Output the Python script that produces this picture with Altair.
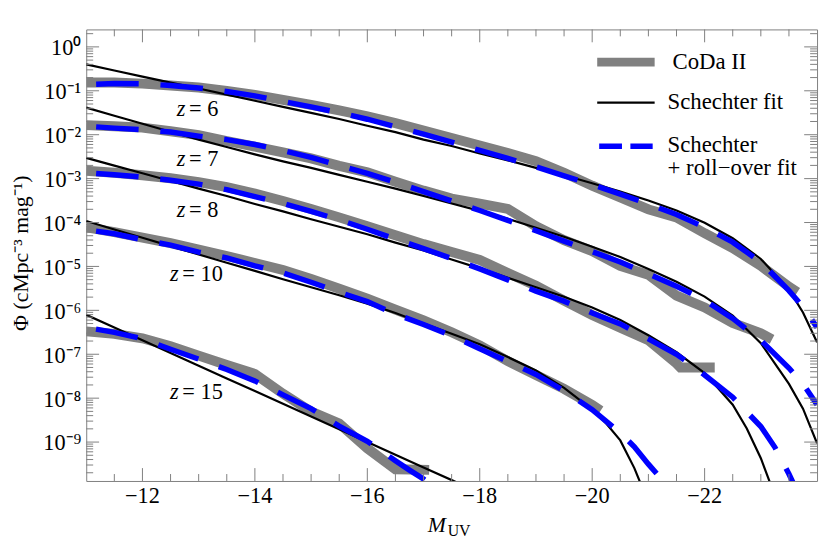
import altair as alt
import pandas as pd

SERIF = "Liberation Serif"
FRAME = "#808080"
GRAY = "#808080"
BLUE = "#0000ff"
W, H = 738, 456

# ---------------- data: (M_UV, Phi) ----------------
CODA_Z6 = [(-11.0, 0.154), (-11.5, 0.154), (-12.0, 0.146), (-12.5, 0.132), (-13.0, 0.119),
           (-13.5, 0.0989), (-14.0, 0.0804), (-14.5, 0.0619), (-15.0, 0.0478), (-15.5, 0.0359),
           (-16.0, 0.0263), (-16.5, 0.0183), (-17.0, 0.0124), (-17.5, 8.38e-3), (-18.0, 5.68e-3),
           (-18.5, 3.85e-3), (-19.0, 2.49e-3), (-19.5, 1.36e-3), (-20.0, 6.92e-4), (-20.5, 3.71e-4),
           (-21.0, 1.99e-4), (-21.5, 1.31e-4), (-22.0, 5.70e-5), (-22.5, 2.62e-5), (-23.0, 1.03e-5),
           (-23.5, 3.44e-6), (-23.65, 2.6e-6)]
CODA_Z7 = [(-11.0, 1.65e-2), (-11.5, 1.56e-2), (-12.0, 1.45e-2), (-12.5, 1.20e-2), (-13.0, 9.79e-3),
           (-13.5, 7.18e-3), (-14.0, 5.38e-3), (-14.5, 3.94e-3), (-15.0, 2.88e-3), (-15.5, 1.95e-3),
           (-16.0, 1.39e-3), (-16.5, 8.51e-4), (-17.0, 5.33e-4), (-17.5, 3.52e-4), (-18.0, 2.71e-4),
           (-18.5, 2.04e-4), (-19.0, 8.20e-5), (-19.5, 3.96e-5), (-20.0, 2.24e-5), (-20.5, 1.03e-5),
           (-21.0, 6.43e-6), (-21.5, 2.16e-6), (-22.0, 1.16e-6), (-22.5, 5.16e-7), (-23.0, 2.99e-7),
           (-23.2, 2.19e-7)]
CODA_Z8 = [(-11.0, 1.51e-3), (-11.5, 1.36e-3), (-12.0, 1.19e-3), (-12.5, 1.02e-3), (-13.0, 8.30e-4),
           (-13.5, 6.40e-4), (-14.0, 4.56e-4), (-14.5, 3.09e-4), (-15.0, 2.04e-4), (-15.5, 1.31e-4),
           (-16.0, 8.20e-5), (-16.5, 5.14e-5), (-17.0, 3.22e-5), (-17.5, 2.12e-5), (-18.0, 1.40e-5),
           (-18.5, 7.13e-6), (-19.0, 3.63e-6), (-19.5, 1.66e-6), (-20.0, 7.83e-7), (-20.5, 4.01e-7),
           (-21.0, 2.08e-7), (-21.5, 6.14e-8), (-21.57, 4.99e-8), (-22.18, 4.99e-8)]
CODA_Z10 = [(-11.0, 7.80e-5), (-11.5, 6.01e-5), (-12.0, 4.52e-5), (-12.5, 3.39e-5), (-13.0, 2.42e-5),
            (-13.5, 1.73e-5), (-14.0, 1.20e-5), (-14.5, 8.34e-6), (-15.0, 5.22e-6), (-15.5, 3.10e-6),
            (-16.0, 1.85e-6), (-16.5, 1.04e-6), (-17.0, 5.89e-7), (-17.5, 3.16e-7), (-18.0, 1.60e-7),
            (-18.5, 6.98e-8), (-19.0, 3.37e-8), (-19.5, 1.63e-8), (-20.0, 7.0e-9), (-20.15, 5.2e-9)]
CODA_Z15 = [(-11.0, 3.32e-7), (-11.5, 2.92e-7), (-12.0, 2.31e-7), (-12.5, 1.52e-7), (-13.0, 9.29e-8),
            (-13.5, 5.68e-8), (-14.0, 3.56e-8), (-14.5, 1.26e-8), (-15.0, 4.93e-9), (-15.5, 2.64e-9),
            (-16.0, 7.21e-10), (-16.5, 2.4e-10), (-17.1, 2.33e-10)]

SCH_Z6 = [(-11.0, 0.401), (-11.5, 0.290), (-12.0, 0.210), (-12.5, 0.154), (-13.0, 0.113),
          (-13.5, 0.0817), (-14.0, 0.0592), (-14.5, 0.0431), (-15.0, 0.0314), (-15.5, 0.02275),
          (-16.0, 0.0160), (-16.5, 0.01146), (-17.0, 7.74e-3), (-17.5, 5.53e-3), (-18.0, 3.74e-3),
          (-18.5, 2.60e-3), (-19.0, 1.76e-3), (-19.5, 1.19e-3), (-20.0, 7.87e-4), (-20.5, 5.06e-4),
          (-21.0, 3.17e-4), (-21.5, 1.88e-4), (-22.0, 9.84e-5), (-22.5, 4.40e-5), (-23.0, 1.48e-5),
          (-23.5, 2.94e-6), (-23.75, 8.91e-7), (-24.0, 1.87e-7)]
SCH_Z7 = [(-11.0, 4.13e-2), (-11.5, 2.70e-2), (-12.0, 1.78e-2), (-12.5, 1.17e-2), (-13.0, 7.74e-3),
          (-13.5, 5.25e-3), (-14.0, 3.56e-3), (-14.5, 2.47e-3), (-15.0, 1.76e-3), (-15.5, 1.22e-3),
          (-16.0, 8.51e-4), (-16.5, 5.92e-4), (-17.0, 4.01e-4), (-17.5, 2.71e-4), (-18.0, 1.84e-4),
          (-18.5, 1.21e-4), (-19.0, 7.59e-5), (-19.5, 4.75e-5), (-20.0, 2.82e-5), (-20.5, 1.64e-5),
          (-21.0, 8.79e-6), (-21.5, 4.47e-6), (-22.0, 2.05e-6), (-22.5, 7.64e-7), (-23.0, 1.78e-7),
          (-23.5, 2.11e-8), (-23.75, 5.77e-9), (-24.0, 9.35e-10)]
SCH_Z8 = [(-11.0, 2.96e-3), (-11.5, 1.98e-3), (-12.0, 1.32e-3), (-12.5, 8.83e-4), (-13.0, 5.92e-4),
          (-13.5, 4.01e-4), (-14.0, 2.64e-4), (-14.5, 1.79e-4), (-15.0, 1.19e-4), (-15.5, 8.00e-5),
          (-16.0, 5.42e-5), (-16.5, 3.48e-5), (-17.0, 2.30e-5), (-17.5, 1.44e-5), (-18.0, 9.02e-6),
          (-18.5, 5.50e-6), (-19.0, 3.36e-6), (-19.5, 2.05e-6), (-20.0, 1.16e-6), (-20.5, 6.04e-7),
          (-21.0, 2.70e-7), (-21.5, 1.11e-7), (-22.0, 3.74e-8), (-22.5, 7.10e-9), (-22.75, 2.04e-9),
          (-23.0, 4.29e-10), (-23.2, 8.9e-11)]
SCH_Z10 = [(-11.0, 1.08e-4), (-11.5, 6.95e-5), (-12.0, 4.49e-5), (-12.5, 2.90e-5), (-13.0, 1.87e-5),
           (-13.5, 1.21e-5), (-14.0, 7.91e-6), (-14.5, 5.09e-6), (-15.0, 3.36e-6), (-15.5, 2.21e-6),
           (-16.0, 1.42e-6), (-16.5, 8.69e-7), (-17.0, 5.04e-7), (-17.5, 2.92e-7), (-18.0, 1.69e-7),
           (-18.5, 8.61e-8), (-19.0, 4.27e-8), (-19.5, 1.72e-8), (-20.0, 5.47e-9), (-20.25, 2.64e-9),
           (-20.5, 1.09e-9), (-20.75, 2.55e-10), (-21.0, 4.2e-11)]
SCH_Z15 = [(-11.0, 7.91e-7), (-11.5, 4.06e-7), (-12.0, 2.08e-7), (-12.5, 1.07e-7), (-13.0, 5.50e-8),
           (-13.5, 2.81e-8), (-14.0, 1.45e-8), (-14.5, 7.43e-9), (-15.0, 3.80e-9), (-15.5, 1.95e-9),
           (-16.0, 1.00e-9), (-16.5, 5.14e-10), (-17.0, 2.64e-10), (-17.5, 1.36e-10), (-17.75, 9.8e-11)]

ROLL_Z6 = [(-11.0, 0.139), (-11.5, 0.146), (-12.0, 0.144), (-12.5, 0.132), (-13.0, 0.116),
           (-13.5, 0.0964), (-14.0, 0.0764), (-14.5, 0.0573), (-15.0, 0.0431), (-15.5, 0.0316),
           (-16.0, 0.0225), (-16.5, 0.0152), (-17.0, 0.0103), (-17.5, 6.81e-3), (-18.0, 4.38e-3),
           (-18.5, 2.88e-3), (-19.0, 1.86e-3), (-19.5, 1.16e-3), (-20.0, 7.28e-4), (-20.5, 4.45e-4),
           (-21.0, 2.64e-4), (-21.5, 1.53e-4), (-22.0, 7.80e-5), (-22.5, 3.57e-5), (-23.0, 1.26e-5),
           (-23.5, 2.80e-6), (-23.75, 1.19e-6), (-24.0, 4.09e-7)]
ROLL_Z7 = [(-11.0, 1.56e-2), (-11.5, 1.41e-2), (-12.0, 1.30e-2), (-12.5, 1.15e-2), (-13.0, 9.29e-3),
           (-13.5, 7.74e-3), (-14.0, 5.98e-3), (-14.5, 4.38e-3), (-15.0, 3.04e-3), (-15.5, 2.00e-3),
           (-16.0, 1.32e-3), (-16.5, 8.30e-4), (-17.0, 5.06e-4), (-17.5, 3.09e-4), (-18.0, 1.88e-4),
           (-18.5, 1.12e-4), (-19.0, 6.50e-5), (-19.5, 3.77e-5), (-20.0, 2.18e-5), (-20.5, 1.26e-5),
           (-21.0, 6.78e-6), (-21.5, 3.54e-6), (-22.0, 1.71e-6), (-22.5, 6.53e-7), (-23.0, 2.08e-7),
           (-23.5, 4.85e-8), (-23.75, 2.11e-8), (-24.0, 7.10e-9)]
ROLL_Z8 = [(-11.0, 1.36e-3), (-11.5, 1.22e-3), (-12.0, 1.08e-3), (-12.5, 9.20e-4), (-13.0, 7.48e-4),
           (-13.5, 5.61e-4), (-14.0, 3.90e-4), (-14.5, 2.71e-4), (-15.0, 1.79e-4), (-15.5, 1.15e-4),
           (-16.0, 7.03e-5), (-16.5, 4.18e-5), (-17.0, 2.55e-5), (-17.5, 1.52e-5), (-18.0, 8.79e-6),
           (-18.5, 4.95e-6), (-19.0, 2.73e-6), (-19.5, 1.62e-6), (-20.0, 8.69e-7), (-20.5, 4.91e-7),
           (-21.0, 2.25e-7), (-21.5, 1.00e-7), (-22.0, 3.37e-8), (-22.5, 1.05e-8), (-23.0, 2.26e-9),
           (-23.25, 7.59e-10), (-23.5, 1.87e-10), (-23.6, 1.0e-10)]
ROLL_Z10 = [(-11.0, 6.84e-5), (-11.5, 5.56e-5), (-12.0, 4.06e-5), (-12.5, 3.05e-5), (-13.0, 2.12e-5),
            (-13.5, 1.56e-5), (-14.0, 1.03e-5), (-14.5, 7.13e-6), (-15.0, 4.36e-6), (-15.5, 2.59e-6),
            (-16.0, 1.58e-6), (-16.5, 8.24e-7), (-17.0, 4.78e-7), (-17.5, 2.63e-7), (-18.0, 1.34e-7),
            (-18.5, 6.81e-8), (-19.0, 3.47e-8), (-19.5, 1.47e-8), (-20.0, 5.47e-9), (-20.5, 1.61e-9),
            (-20.75, 7.80e-10), (-21.0, 3.14e-10), (-21.25, 1.36e-10), (-21.5, 5.9e-11)]
ROLL_Z15 = [(-11.0, 4.09e-7), (-11.5, 3.16e-7), (-12.0, 2.25e-7), (-12.5, 1.30e-7), (-13.0, 7.74e-8),
            (-13.5, 4.49e-8), (-14.0, 2.47e-8), (-14.5, 1.19e-8), (-15.0, 5.77e-9), (-15.5, 2.32e-9),
            (-16.0, 1.04e-9), (-16.5, 3.77e-10), (-16.75, 2.30e-10), (-17.0, 1.44e-10), (-17.25, 8.1e-11)]

REDSHIFTS = ["6", "7", "8", "10", "15"]
LABEL_M = [-12.61, -12.61, -12.61, -12.49, -12.49]          # left edge of the "z" of each label
LABEL_PHI = [2.73e-2, 1.92e-3, 1.31e-4, 4.54e-6, 9.68e-9]    # baseline of each label

X_MAJOR = [-12, -14, -16, -18, -20, -22]
X_MAJOR_LABELS = ["−12", "−14", "−16", "−18", "−20", "−22"]
X_MINOR = [-11.5, -12.5, -13, -13.5, -14.5, -15, -15.5, -16.5, -17, -17.5, -18.5, -19, -19.5,
           -20.5, -21, -21.5, -22.5, -23, -23.5]
Y_MAJOR = [1e0, 1e-1, 1e-2, 1e-3, 1e-4, 1e-5, 1e-6, 1e-7, 1e-8, 1e-9]
Y_MAJOR_LABELS = ["10⁰", "10⁻¹", "10⁻²", "10⁻³", "10⁻⁴", "10⁻⁵", "10⁻⁶", "10⁻⁷", "10⁻⁸", "10⁻⁹"]
Y_DOMAIN = [1.3e-10, 2.5]
Y_MINOR = [k * 10.0 ** e for e in range(-10, 1) for k in range(2, 10)
           if Y_DOMAIN[0] <= k * 10.0 ** e <= Y_DOMAIN[1]]

LEGEND_LABELS = ["CoDa II", "Schechter fit", "Schechter", "+ roll−over fit"]
X_TITLE = ["M", "UV"]
Y_TITLE = "Φ  (cMpc⁻³ mag⁻¹)"


def curves(series):
    rows = []
    for z, pts in zip(REDSHIFTS, series):
        for m, p in pts:
            rows.append({"z": z, "M": m, "phi": p})
    return pd.DataFrame(rows)


coda_df = curves([CODA_Z6, CODA_Z7, CODA_Z8, CODA_Z10, CODA_Z15])
sch_df = curves([SCH_Z6, SCH_Z7, SCH_Z8, SCH_Z10, SCH_Z15])
roll_df = curves([ROLL_Z6, ROLL_Z7, ROLL_Z8, ROLL_Z10, ROLL_Z15])

xscale = alt.Scale(domain=[-11, -24], nice=False, zero=False)
yscale = alt.Scale(type="log", domain=Y_DOMAIN, nice=False)

X = alt.X("M:Q", scale=xscale, axis=None)
Y = alt.Y("phi:Q", scale=yscale, axis=None)
ORDER = alt.Order("M:Q", sort="descending")

gray = alt.Chart(coda_df).mark_line(color=GRAY, strokeWidth=10, clip=True).encode(
    x=X, y=Y, detail="z:N", order=ORDER)
black = alt.Chart(sch_df).mark_line(color="black", strokeWidth=2.2, clip=True).encode(
    x=X, y=Y, detail="z:N", order=ORDER)
blue = alt.Chart(roll_df).mark_line(color=BLUE, strokeWidth=5.5, strokeDash=[43, 22],
                                    strokeDashOffset=55, clip=True).encode(
    x=X, y=Y, detail="z:N", order=ORDER)

# redshift labels
lab_df = pd.DataFrame({"M": LABEL_M, "phi": LABEL_PHI, "z": REDSHIFTS})
lab_df["eq"] = "= " + lab_df["z"]
zlab = alt.Chart(lab_df).mark_text(text="z", font=SERIF, fontSize=22.5, fontStyle="italic",
                                   align="left", baseline="alphabetic").encode(x=X, y=Y)
eqlab = alt.Chart(lab_df).mark_text(font=SERIF, fontSize=22.5, align="left", baseline="alphabetic",
                                    dx=12.5).encode(x=X, y=Y, text="eq:N")

# ticks (inward, on all four sides)
ymaj = pd.DataFrame({"v": Y_MAJOR, "t": Y_MAJOR_LABELS})
ymin = pd.DataFrame({"v": Y_MINOR})
xmaj = pd.DataFrame({"v": X_MAJOR, "t": X_MAJOR_LABELS})
xmin = pd.DataFrame({"v": X_MINOR})
YV = alt.Y("v:Q", scale=yscale, axis=None)
XV = alt.X("v:Q", scale=xscale, axis=None)


def yticks(df, length):
    left = alt.Chart(df).mark_rule(color=FRAME, strokeWidth=1).encode(
        y=YV, x=alt.value(0), x2=alt.value(length))
    right = alt.Chart(df).mark_rule(color=FRAME, strokeWidth=1).encode(
        y=YV, x=alt.value(W - length), x2=alt.value(W))
    return [left, right]


def xticks(df, length):
    bottom = alt.Chart(df).mark_rule(color=FRAME, strokeWidth=1).encode(
        x=XV, y=alt.value(H - length), y2=alt.value(H))
    top = alt.Chart(df).mark_rule(color=FRAME, strokeWidth=1).encode(
        x=XV, y=alt.value(0), y2=alt.value(length))
    return [bottom, top]


ticks = yticks(ymaj, 13) + yticks(ymin, 7) + xticks(xmaj, 13) + xticks(xmin, 7)

ylabels = alt.Chart(ymaj).mark_text(font=SERIF, fontSize=22.5, align="right", baseline="alphabetic",
                                    dy=8.5).encode(y=YV, x=alt.value(-5), text="t:N")
xlabels = alt.Chart(xmaj).mark_text(font=SERIF, fontSize=22.5, align="center",
                                    baseline="alphabetic").encode(x=XV, y=alt.value(H + 22), text="t:N")

one = pd.DataFrame({"a": [0]})
xt_m = alt.Chart(one).mark_text(text=X_TITLE[0], font=SERIF, fontSize=22, fontStyle="italic",
                                align="left", baseline="alphabetic").encode(
    x=alt.value(345), y=alt.value(H + 52))
xt_uv = alt.Chart(one).mark_text(text=X_TITLE[1], font=SERIF, fontSize=16, align="left",
                                 baseline="alphabetic").encode(x=alt.value(365), y=alt.value(H + 55.5))
yt = alt.Chart(one).mark_text(text=Y_TITLE, font=SERIF, fontSize=22, angle=270, align="center",
                              baseline="alphabetic").encode(x=alt.value(-59), y=alt.value(226))

# legend
leg_gray = alt.Chart(one).mark_rule(color=GRAY, strokeWidth=9).encode(
    x=alt.value(516), x2=alt.value(574), y=alt.value(33))
leg_black = alt.Chart(one).mark_rule(color="black", strokeWidth=2.2).encode(
    x=alt.value(516), x2=alt.value(574), y=alt.value(74))
leg_blue = alt.Chart(one).mark_rule(color=BLUE, strokeWidth=5.5, strokeDash=[23, 8.5]).encode(
    x=alt.value(518), x2=alt.value(572), y=alt.value(118))
leg_df = pd.DataFrame({"t": LEGEND_LABELS, "lx": [592, 587, 587, 587], "ly": [39.7, 80.3, 123.7, 147]})
leg_text = alt.Chart(leg_df).mark_text(font=SERIF, fontSize=23, align="left",
                                       baseline="alphabetic").encode(
    x=alt.X("lx:Q", scale=None), y=alt.Y("ly:Q", scale=None), text="t:N")

chart = alt.layer(
    gray, black, blue, zlab, eqlab, *ticks, ylabels, xlabels, xt_m, xt_uv, yt,
    leg_gray, leg_black, leg_blue, leg_text
).properties(
    width=W, height=H,
    autosize=alt.AutoSizeParams(type="none"),
    padding={"left": 79, "top": 19, "right": 5, "bottom": 59},
).configure_view(stroke=FRAME, strokeWidth=1)

chart.save("out.html", embed_options={"renderer": "svg", "actions": False})
